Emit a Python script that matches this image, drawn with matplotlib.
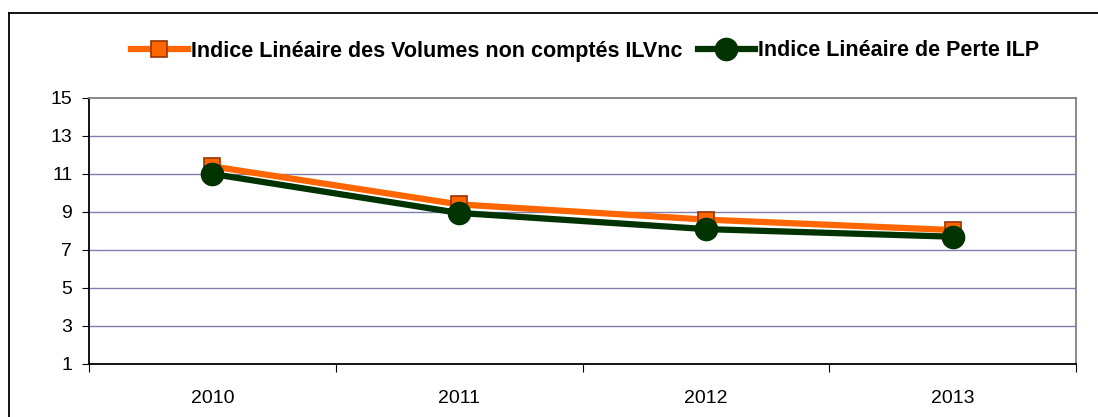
import matplotlib.pyplot as plt
from matplotlib.lines import Line2D

# data
years = ["2010", "2011", "2012", "2013"]
ilvnc = [11.4, 9.4, 8.6, 8.05]
ilp = [11.0, 8.95, 8.1, 7.7]
yticks = [1, 3, 5, 7, 9, 11, 13, 15]

plt.rcParams['font.family'] = ['Liberation Sans', 'DejaVu Sans']

W, H = 1098, 417
fig = plt.figure(figsize=(W / 100, H / 100), dpi=100)
ax = fig.add_axes([89 / W, 53 / H, (1076 - 89) / W, (364 - 98) / H])

# frame around the whole chart: only left and top edges are in the picture
fy = 1 - 13 / H
fx = 9 / W
fig.add_artist(Line2D([fx, fx], [0, fy], transform=fig.transFigure,
                      color='black', lw=1.3))
fig.add_artist(Line2D([fx, 1], [fy, fy], transform=fig.transFigure,
                      color='black', lw=1.3))

x = list(range(len(years)))
ax.plot(x, ilvnc, color='#FF6600', lw=4.5, marker='s', ms=11,
        mfc='#FF6600', mec='#993300', mew=1.2,
        label='Indice Linéaire des Volumes non comptés ILVnc', zorder=3)
ax.plot(x, ilp, color='#003300', lw=4.5, marker='o', ms=16,
        mfc='#003300', mec='#003300',
        label='Indice Linéaire de Perte ILP', zorder=4)

ax.set_ylim(1, 15)
ax.set_yticks(yticks)
ax.set_xlim(-0.5, len(years) - 0.5)
ax.set_xticks([i - 0.5 for i in range(len(years) + 1)])
ax.set_xticklabels([])
ax.set_xticks(x, minor=True)
ax.set_xticklabels(years, minor=True)
ax.tick_params(axis='x', which='minor', length=0, pad=19, labelsize=14)
ax.tick_params(axis='x', which='major', length=6, direction='out', color='black')
ax.tick_params(axis='y', length=5, direction='out', labelsize=14, pad=7)

for y in yticks[1:-1]:
    ax.axhline(y, color='#8080B0', lw=1, zorder=1)

ax.spines['top'].set_color('#808080')
ax.spines['right'].set_color('#808080')
for s in ax.spines.values():
    s.set_linewidth(1.3)

fig.legend(loc='center', bbox_to_anchor=(585 / W, 1 - 51 / H), ncol=2,
           frameon=False, handlelength=2.65, handletextpad=0.15,
           columnspacing=0.7, prop={'weight': 'bold', 'size': 15.5})

fig.savefig('out.png', dpi=100)
